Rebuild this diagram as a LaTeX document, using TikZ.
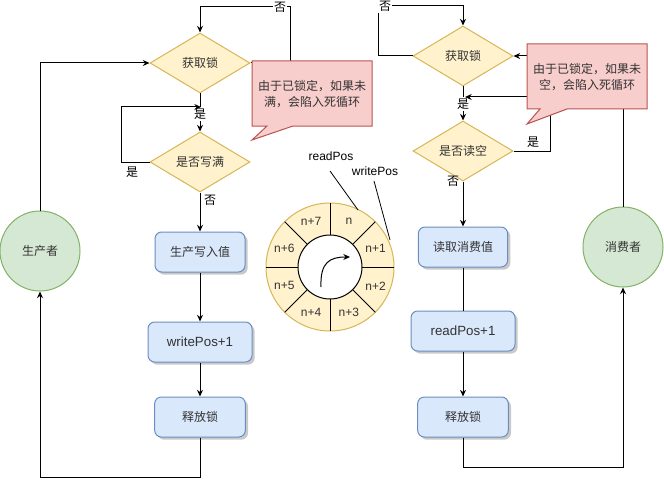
\documentclass[tikz,border=0pt]{standalone}
\usepackage{fontspec}
\setmainfont{Liberation Sans}
\newfontfamily\cjk{Noto Sans CJK SC}
\usetikzlibrary{shapes.geometric,arrows.meta,shadows}

\definecolor{dfill}{HTML}{FFF2CC}
\definecolor{dline}{HTML}{D6B656}
\definecolor{bfill}{HTML}{DAE8FC}
\definecolor{bline}{HTML}{6C8EBF}
\definecolor{gfill}{HTML}{D5E8D4}
\definecolor{gline}{HTML}{82B366}
\definecolor{rfill}{HTML}{F8CECC}
\definecolor{rline}{HTML}{B85450}
\definecolor{txt}{HTML}{333333}

\tikzset{
  dia/.style={diamond, draw=dline, fill=dfill, minimum width=75pt, minimum height=45pt,
    inner sep=0pt, text=txt, font=\cjk\fontsize{9}{11}\selectfont},
  box/.style={rectangle, rounded corners=5pt, draw=bline, fill=bfill, minimum height=30pt,
    inner sep=0pt, text=txt,
    drop shadow={shadow xshift=2pt, shadow yshift=-2pt, fill=black!30, opacity=0.7}},
  actor/.style={circle, draw=gline, fill=gfill, minimum size=60pt, inner sep=0pt, text=txt},
  arr/.style={-{Stealth[length=5pt,width=4.5pt]}, line width=0.75pt},
  lbl/.style={font=\cjk\fontsize{9}{11}\selectfont, inner sep=1pt, fill=white},
  note/.style={draw=rline, fill=rfill, line width=0.75pt},
  notetxt/.style={font=\cjk\fontsize{9}{12.5}\selectfont, text=txt, align=center},
  cell/.style={text=txt, inner sep=0pt}
}

\begin{document}
\begin{tikzpicture}[x=0.75pt,y=-0.75pt,font=\fontsize{9}{11}\selectfont, line width=0.75pt]

  \useasboundingbox (0,0) rectangle (664,485);

     \node[actor] (prod) at (40,251) {\cjk 生产者};
     \node[dia] (lock1) at (200,63) {获取锁};
     \node[dia] (full1) at (200,162) {是否写满};
     \node[box, minimum width=67.5pt] (write1) at (200,252) {\cjk 生产写入值};
     \node[box, minimum width=78pt] (wpos) at (200,342) {\fontsize{10}{12}\selectfont writePos+1};
     \node[box, minimum width=68pt] (rel1) at (200,417) {\cjk 释放锁};

     \node[dia] (lock2) at (463,56) {获取锁};
     \node[dia] (empty2) at (463,151) {是否读空};
     \node[box, minimum width=67pt] (read1) at (463,247) {\cjk 读取消费值};
     \node[box, minimum width=78pt] (rpos) at (463,331) {\fontsize{10}{12}\selectfont readPos+1};
     \node[box, minimum width=68pt] (rel2) at (463,417) {\cjk 释放锁};
     \node[actor] (cons) at (623,247) {\cjk 消费者};

      \coordinate (l1top) at (290,7);
      \coordinate (l1ret) at (121,107);
      \coordinate (l1mid) at (201,107);
      \coordinate (l1bot) at (40,477);
      \coordinate (r1top) at (378,6);
      \coordinate (r1ret) at (550,97);
      \coordinate (r1mid) at (465,97);
      \coordinate (r1bot) at (623,467);

    \draw[arr] (prod.north) |- (lock1.west);
    \draw[arr] (lock1.east) -| (l1top) -| (lock1.north);
    \draw[arr] (lock1.south) -- (full1.north);
    \draw[arr] (full1.south) -- (write1.north);
    \draw[arr] (write1.south) -- (wpos.north);
    \draw[arr] (wpos.south) -- (rel1.north);
    \draw[arr] (rel1.south) |- (l1bot) -- (prod.south);

    \draw[arr] (cons.north) |- (lock2.east);
    \draw[arr] (lock2.west) -| (r1top) -| (lock2.north);
    \draw[arr] (lock2.south) -- (empty2.north);
    \draw[arr] (empty2.south) -- (read1.north);
    \draw (read1.south) -- (rpos.north);
    \draw[arr] (rpos.south) -- (rel2.north);
    \draw[arr] (rel2.south) |- (r1bot) -- (cons.south);

    \node[lbl] (no1) at (280,7) {否};
    \node[lbl] (yes1) at (200,114) {是};
    \node[lbl, fill=none] (yes2) at (132,172) {是};
    \node[lbl, fill=none] (no2) at (210,200) {否};
    \node[lbl] (no3) at (385,6) {否};
    \node[lbl] (yes3) at (463,104) {是};
    \node[lbl, fill=none] (yes4) at (533,142) {是};
    \node[lbl, fill=none] (no4) at (453,181) {否};

    \draw[arr] (full1.west) -| (l1ret) -- (l1mid);
    \draw[arr] (empty2.east) -| (r1ret) -- (r1mid);

    \path[note] (252,61) -- (372,61) -- (372,126) -- (293,126) -- (252,140) -- (267,126) -- (252,126) -- cycle;
    \node[notetxt] (note1) at (312,94) {由于已锁定，如果未\\满，会陷入死循环};
    \path[note] (527,44) -- (647,44) -- (647,109) -- (567,109) -- (527,124) -- (540,109) -- (527,109) -- cycle;
    \node[notetxt] (note2) at (587,77) {由于已锁定，如果未\\空，会陷入死循环};

   \coordinate (ring) at (330,267);
    \draw[draw=dline, fill=dfill] (ring) circle[radius=48pt];
    \foreach \a in {0,45,...,315}
      \draw (ring) ++(\a:24pt) -- ++(\a:24pt);
    \draw[fill=white] (ring) circle[radius=24pt];
    \foreach \k in {0,...,7}
      \path (ring) ++({67.5-45*\k}:37pt) node[cell] (cell\k) {\ifnum\k=0 n\else n+\k\fi};
    \draw[arr] (321,287) .. controls (320,262) and (330,257) .. (350,257);

    \node (rp) at (331,156) {readPos};
    \node (wp) at (375,171) {writePos};
     \coordinate (rp1) at (330,171);
     \coordinate (rp2) at (358,210);
     \coordinate (wp1) at (374,181);
     \coordinate (wp2) at (390,240);
    \draw[line width=0.6pt] (rp1) -- (rp2);
    \draw[line width=0.6pt] (wp1) -- (wp2);

\end{tikzpicture}
\end{document}
